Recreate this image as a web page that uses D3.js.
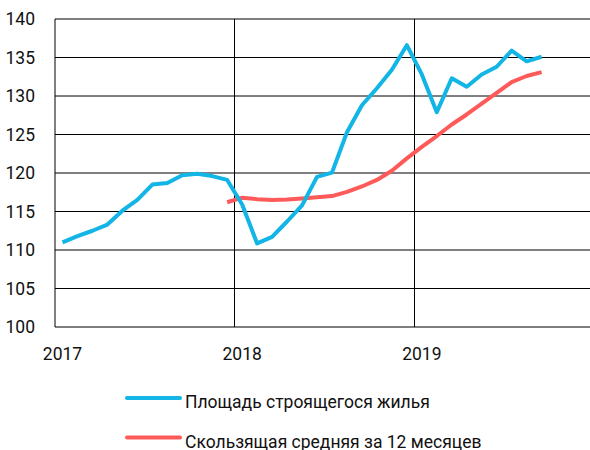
<!DOCTYPE html>
<html>
<head>
<meta charset="utf-8">
<script src="https://cdn.jsdelivr.net/npm/d3@7"></script>
<style>
  body { margin: 0; background: #fff; }
  svg { display: block; font-family: Roboto, "Noto Sans", sans-serif; }
</style>
</head>
<body>
<div id="container"></div>
<script>
// monthly data, Jan 2017 .. Sep 2019 (index 0 = Jan 2017)
var years = ["2017", "2018", "2019"];
var yTicks = [100, 105, 110, 115, 120, 125, 130, 135, 140];

var housing = [111.0, 111.8, 112.5, 113.3, 115.1, 116.5, 118.5, 118.7, 119.7, 119.9, 119.6, 119.1,
    115.9, 110.85, 111.7, 113.7, 115.8, 119.5, 120.05, 125.3, 128.8, 131.0, 133.4, 136.6,
    132.8, 127.9, 132.3, 131.2, 132.8, 133.8, 135.9, 134.5, 135.1];

// 12-month moving average starts Dec 2017 (index 11)
var avgStart = 11;
var movingAvg = [116.2, 116.8, 116.6, 116.5, 116.55, 116.7, 116.85, 117.0, 117.55, 118.25, 119.1,
    120.3, 121.9, 123.4, 124.8, 126.3, 127.6, 129.0, 130.4, 131.8, 132.6, 133.1];

var seriesNames = ["Площадь строящегося жилья", "Скользящая средняя за 12 месяцев"];
var colors = ["#12b5e5", "#ff5a5a"];

var width = 590;
var height = 450;

var svg = d3.select('#container')
    .append('svg')
    .attr("width", width)
    .attr("height", height);

var x = d3.scaleLinear().domain([0, 36]).range([55, 594]);
var y = d3.scaleLinear().domain([100, 140]).range([327, 19]);

// horizontal grid
svg.append("g")
    .selectAll("line")
    .data(yTicks)
    .enter()
    .append("line")
    .attr("x1", 55)
    .attr("x2", width)
    .attr("y1", d => y(d))
    .attr("y2", d => y(d))
    .attr("stroke", "#000")
    .attr("stroke-width", 1);

// year separators
svg.append("g")
    .selectAll("line")
    .data([12, 24])
    .enter()
    .append("line")
    .attr("x1", d => x(d))
    .attr("x2", d => x(d))
    .attr("y1", y(140))
    .attr("y2", y(100))
    .attr("stroke", "#000")
    .attr("stroke-width", 1)
    .attr("shape-rendering", "crispEdges");

// left axis line
svg.append("line")
    .attr("x1", 55).attr("x2", 55)
    .attr("y1", y(140)).attr("y2", y(100))
    .attr("stroke", "#000")
    .attr("stroke-width", 1);

// y labels
svg.append("g")
    .selectAll("text")
    .data(yTicks)
    .enter()
    .append("text")
    .attr("x", 35)
    .attr("y", d => y(d))
    .attr("dy", "0.36em")
    .attr("text-anchor", "end")
    .attr("font-size", 17.5)
    .attr("fill", "#111")
    .text(d => d);

// x labels (centered on January)
svg.append("g")
    .selectAll("text")
    .data(years)
    .enter()
    .append("text")
    .attr("x", (d, i) => x(i * 12 + 0.5))
    .attr("y", 360)
    .attr("text-anchor", "middle")
    .attr("font-size", 17.5)
    .attr("fill", "#111")
    .text(d => d);

var line = d3.line()
    .x(d => x(d.i + 0.5))
    .y(d => y(d.v));

var housingPts = housing.map((v, i) => ({ i: i, v: v }));
var avgPts = movingAvg.map((v, i) => ({ i: i + avgStart, v: v }));

svg.append("path")
    .datum(avgPts)
    .attr("d", line)
    .attr("fill", "none")
    .attr("stroke", colors[1])
    .attr("stroke-width", 4)
    .attr("stroke-linejoin", "round");

svg.append("path")
    .datum(housingPts)
    .attr("d", line)
    .attr("fill", "none")
    .attr("stroke", colors[0])
    .attr("stroke-width", 4)
    .attr("stroke-linejoin", "round");

// legend
var legend = svg.selectAll(".legend")
    .data(seriesNames)
    .enter()
    .append("g")
    .attr("class", "legend")
    .attr("transform", (d, i) => "translate(0," + (398 + i * 39.5) + ")");

legend.append("line")
    .attr("x1", 127)
    .attr("x2", 180)
    .attr("stroke", (d, i) => colors[i])
    .attr("stroke-width", 4)
    .attr("stroke-linecap", "round");

legend.append("text")
    .attr("x", 185)
    .attr("y", 10)
    .attr("font-size", 17.5)
    .attr("fill", "#111")
    .text(d => d);
</script>
</body>
</html>
